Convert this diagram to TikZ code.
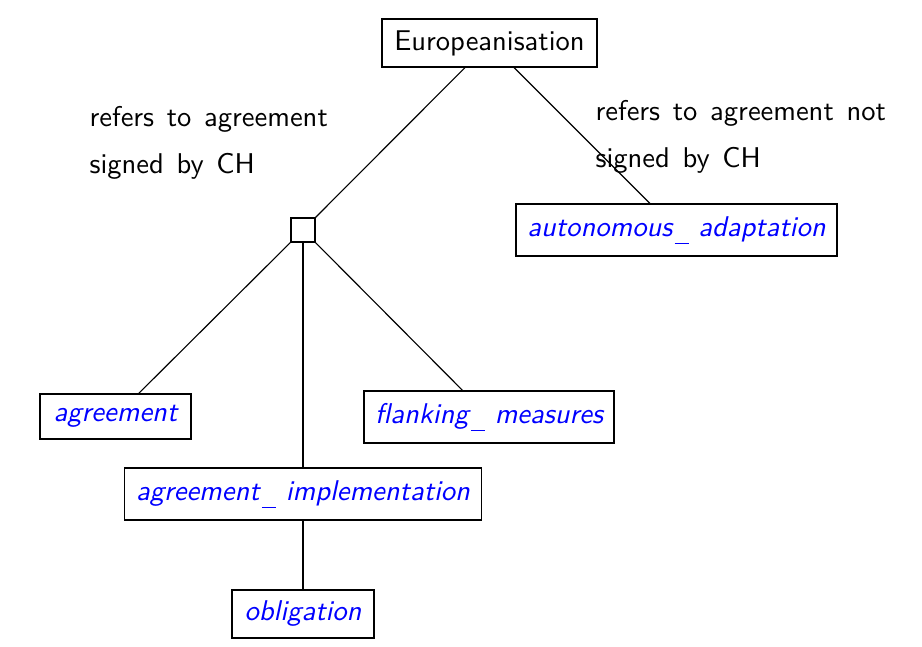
\documentclass[tikz,border=0pt]{standalone}
\usepackage{fontspec}
\setsansfont{Latin Modern Sans}
\newcommand\widespaces{\spaceskip=4.45pt\relax}
\newcommand\uscore{\kern.08em\raisebox{-2.7pt}{\rule{0.5em}{0.4pt}}}
\begin{document}
\begin{tikzpicture}[x=0.35pt,y=-0.35pt,
  box/.style={draw,inner sep=0pt,font=\sffamily},
  cls/.style={box,text=blue,font=\sffamily\slshape},
  lbl/.style={inner sep=0pt,align=left,anchor=north west,font=\sffamily,execute at begin node=\widespaces}]
\useasboundingbox (0,0) rectangle (922,646);
\node[box,minimum width=75.25pt,minimum height=16.8pt] (eu) at (489.5,43) {Europeanisation};
\node[draw,inner sep=0pt,minimum size=8.4pt] (sq) at (303,230) {};
\node[cls,minimum width=112.35pt,minimum height=18.2pt] (aa) at (676.5,230) {autonomous\uscore{} adaptation};
\node[cls,minimum width=52.85pt,minimum height=15.75pt] (ag) at (115.5,416.5) {agreement};
\node[cls,minimum width=87.5pt,minimum height=18.2pt] (fm) at (489,417) {flanking\uscore{} measures};
\node[cls,minimum width=124.95pt,minimum height=18.2pt] (ai) at (303,494) {agreement\uscore{} implementation};
\node[cls,minimum width=49.7pt,minimum height=16.8pt] (ob) at (303,614) {obligation};
\node[lbl] (l1) at (89,106) {refers to agreement\\[4.3pt]signed by CH};
\node[lbl] (l2) at (595,100) {refers to agreement not\\[4.3pt]signed by CH};
\draw (eu) -- (sq);
\draw (eu) -- (aa);
\draw (sq) -- (ag);
\draw (sq.south) -- (ai.north);
\draw (sq) -- (fm);
\draw (ai) -- (ob);
\end{tikzpicture}
\end{document}
